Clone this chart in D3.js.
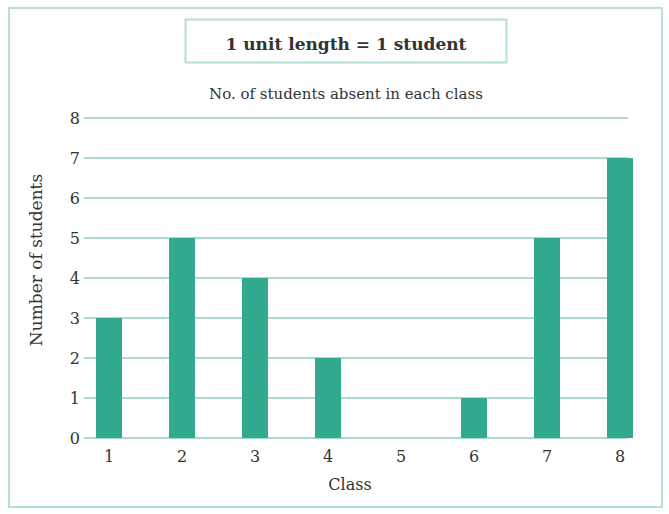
<!DOCTYPE html>
<html>
<head>
<meta charset="utf-8">
<script src="https://cdn.jsdelivr.net/npm/d3@7"></script>
<style>
  html, body { margin: 0; padding: 0; background: #fff; }
  svg { display: block; }
  text { font-family: "DejaVu Serif", serif; fill: #333; }
</style>
</head>
<body>
<script>
const classes = ["1", "2", "3", "4", "5", "6", "7", "8"];
const absent = [3, 5, 4, 2, 0, 1, 5, 7];
const yTicks = [0, 1, 2, 3, 4, 5, 6, 7, 8];
const titleText = "1 unit length = 1 student";
const subtitleText = "No. of students absent in each class";
const xLabel = "Class";
const yLabel = "Number of students";

const W = 669, H = 514;
const svg = d3.select("body").append("svg").attr("width", W).attr("height", H);

// outer frame
svg.append("rect").attr("x", 9).attr("y", 8).attr("width", 653).attr("height", 499)
  .attr("fill", "none").attr("stroke", "#b5e0d6").attr("stroke-width", 2);

// title box
svg.append("rect").attr("x", 185.5).attr("y", 19.5).attr("width", 321).attr("height", 43)
  .attr("fill", "none").attr("stroke", "#b5e0d6").attr("stroke-width", 2);
svg.append("text").attr("x", 346).attr("y", 50).attr("text-anchor", "middle")
  .attr("font-size", 17).attr("font-weight", "bold").text(titleText);

svg.append("text").attr("x", 346).attr("y", 99).attr("text-anchor", "middle")
  .attr("font-size", 15).text(subtitleText);

const y = d3.scaleLinear().domain([0, 8]).range([438, 118]);
const x = d3.scalePoint().domain(classes).range([109, 620]);
const gridX0 = 84, gridX1 = 628;
const barW = 26;

// gridlines
svg.append("g").selectAll("line").data(yTicks).join("line")
  .attr("x1", gridX0).attr("x2", gridX1)
  .attr("y1", d => y(d)).attr("y2", d => y(d))
  .attr("stroke", "#a9dccf").attr("stroke-width", 2);

// y tick labels
svg.append("g").selectAll("text").data(yTicks).join("text")
  .attr("x", 80).attr("y", d => y(d)).attr("dy", "0.36em")
  .attr("text-anchor", "end").attr("font-size", 16).text(d => d);

// bars
svg.append("g").selectAll("rect").data(classes).join("rect")
  .attr("x", (d) => x(d) - barW / 2)
  .attr("width", barW)
  .attr("y", (d, i) => y(absent[i]))
  .attr("height", (d, i) => y(0) - y(absent[i]))
  .attr("fill", "#31aa8f");

// x tick labels
svg.append("g").selectAll("text").data(classes).join("text")
  .attr("x", d => x(d)).attr("y", 462)
  .attr("text-anchor", "middle").attr("font-size", 16).text(d => d);

svg.append("text").attr("x", 350).attr("y", 490).attr("text-anchor", "middle")
  .attr("font-size", 16).text(xLabel);

svg.append("text").attr("transform", "translate(42,260) rotate(-90)")
  .attr("text-anchor", "middle").attr("font-size", 17).text(yLabel);
</script>
</body>
</html>
